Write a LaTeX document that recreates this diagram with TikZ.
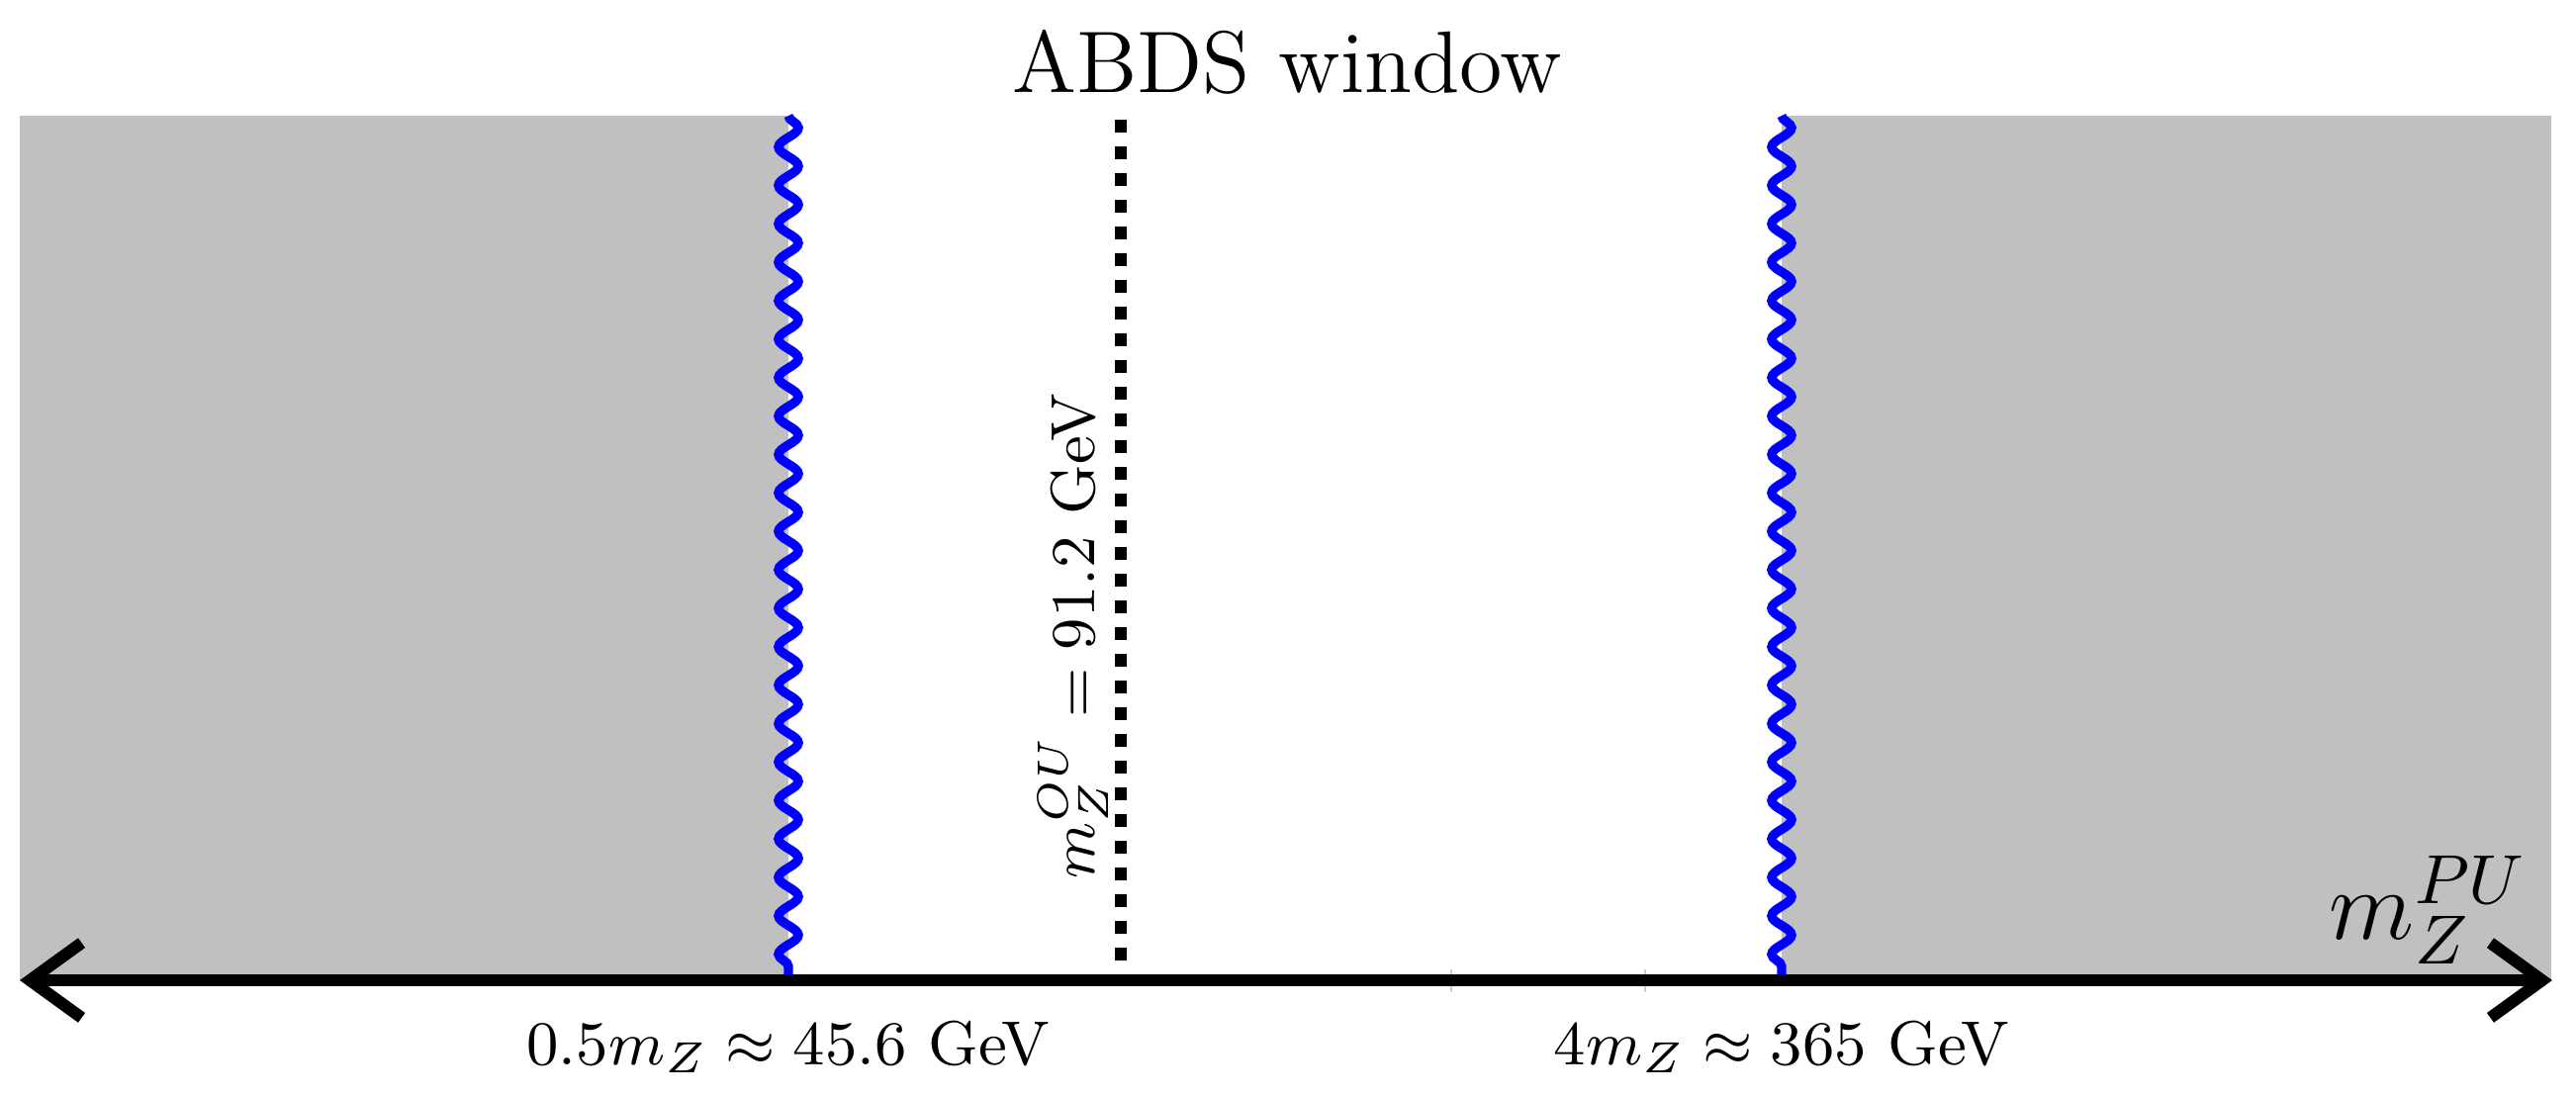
\RequirePackage{fix-cm}
\documentclass[tikz,border=0pt]{standalone}
\usetikzlibrary{arrows.meta,decorations.pathmorphing}
\definecolor{shade}{RGB}{192,192,192}
\begin{document}
\begin{tikzpicture}[x=0.14925pt,y=-0.14925pt,
  region/.style={fill=shade},
  wave/.style={draw=blue,line width=1.4pt,decorate,
    decoration={snake,segment length=5.8pt,amplitude=1.5pt}},
  dotline/.style={draw=black,line width=1.9pt,dash pattern=on 1.94pt off 2.09pt},
  axis/.style={draw=black,line width=1.8pt,
    {Straight Barb[length=7.8pt,width=11.3pt]}-{Straight Barb[length=7.8pt,width=11.3pt]}},
  tick/.style={draw=black!20,line width=0.3pt},
  titletext/.style={inner sep=0pt,font=\fontsize{13.2}{16}\selectfont},
  lab/.style={inner sep=0pt,font=\fontsize{9.4}{11}\selectfont},
  biglab/.style={inner sep=0pt,font=\fontsize{15}{18}\selectfont}]
\useasboundingbox (0,0) rectangle (2604,1108);
% shaded regions
\fill[region] (20,117) rectangle (797,991);
\fill[region] (1801,117) rectangle (2579,991);
% coordinates
\coordinate (W1t) at (797,117);
\coordinate (W1b) at (797,991);
\coordinate (W2t) at (1801,117);
\coordinate (W2b) at (1801,991);
\coordinate (Dt) at (1133,121);
\coordinate (Db) at (1133,985);
\coordinate (T1t) at (1467,980);
\coordinate (T1b) at (1467,1003);
\coordinate (T2t) at (1663,980);
\coordinate (T2b) at (1663,1003);
\coordinate (L) at (20,991);
\coordinate (R) at (2580,991);
% lines
\draw[dotline] (Dt) -- (Db);
\draw[wave] (W1t) -- (W1b);
\draw[wave] (W2t) -- (W2b);
\draw[tick] (T1t) -- (T1b);
\draw[tick] (T2t) -- (T2b);
\draw[axis] (L) -- (R);
% labels
\node[titletext] (title) at (1301,63) {ABDS window};
\node[lab] (lo) at (797,1058) {$0.5m_Z\approx45.6$ GeV};
\node[lab] (hi) at (1801,1058) {$4m_Z\approx365$ GeV};
\node[lab,rotate=90] (ou) at (1085,643) {$m_Z^{OU}=91.2$ GeV};
\node[biglab] (pu) at (2455,920) {$m_Z^{PU}$};
\end{tikzpicture}
\end{document}
